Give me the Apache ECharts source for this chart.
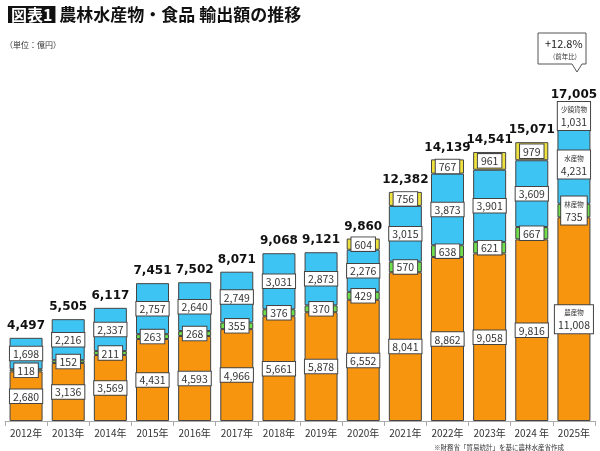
<!DOCTYPE html>
<html>
<head>
<meta charset="utf-8">
<script src="https://cdn.jsdelivr.net/npm/echarts@6/dist/echarts.min.js"></script>
<style>
  html, body { margin: 0; padding: 0; background: #fff; }
  #container { width: 600px; height: 451px; }
</style>
</head>
<body>
<div id="container"></div>
<script>
// データ（単位：億円）
var years = ['2012年', '2013年', '2014年', '2015年', '2016年', '2017年', '2018年',
             '2019年', '2020年', '2021年', '2022年', '2023年', '2024 年', '2025年'];
var nousan = [2680, 3136, 3569, 4431, 4593, 4966, 5661, 5878, 6552, 8041, 8862, 9058, 9816, 11008];
var rinsan = [118, 152, 211, 263, 268, 355, 376, 370, 429, 570, 638, 621, 667, 735];
var suisan = [1698, 2216, 2337, 2757, 2640, 2749, 3031, 2873, 2276, 3015, 3873, 3901, 3609, 4231];
var shougaku = [null, null, null, null, null, null, null, null, 604, 756, 767, 961, 979, 1031];
var totals = [4497, 5505, 6117, 7451, 7502, 8071, 9068, 9121, 9860, 12382, 14139, 14541, 15071, 17005];
var seriesNames = ['農産物', '林産物', '水産物', '少額貨物'];

var dom = document.getElementById('container');
var myChart = echarts.init(dom, null, { renderer: 'canvas' });

var fontJP = '"Noto Sans CJK JP", sans-serif';
var lastIdx = years.length - 1;

function fmt(v) {
   return v.toLocaleString('en-US');
}

// 各セグメントの白い枠ラベル
var boxLabel = {
   show: true,
   position: 'inside',
   backgroundColor: '#fff',
   borderColor: '#444',
   borderWidth: 1,
   padding: [2, 3, 1, 3],
   color: '#333',
   fontSize: 10.5,
   fontFamily: fontJP,
   rich: {
      name: { fontSize: 6.5, color: '#333', lineHeight: 11, align: 'center', fontFamily: fontJP },
      val: { fontSize: 10.5, color: '#333', lineHeight: 14, align: 'center', fontFamily: fontJP }
   },
   formatter: function (p) {
      if (p.dataIndex === lastIdx) {
         return '{name|' + p.seriesName + '}\n{val|' + fmt(p.value) + '}';
      }
      return fmt(p.value);
   }
};

function makeData(arr) {
   return arr.map(function (v) {
      if (v === null) return { value: '-', label: { show: false } };
      return v;
   });
}

var colors = ['#F7950F', '#6FDD4C', '#3EC4F2', '#EFE23E'];
var arrays = [nousan, rinsan, suisan, shougaku];

var series = arrays.map(function (arr, i) {
   return {
      name: seriesNames[i],
      type: 'bar',
      stack: 'total',
      barWidth: 33,
      data: makeData(arr),
      itemStyle: { color: colors[i], borderColor: '#444', borderWidth: 1 },
      label: boxLabel
   };
});

// 合計ラベル
series.push({
   name: '合計',
   type: 'bar',
   stack: 'total',
   barWidth: 33,
   data: totals.map(function () { return 0; }),
   itemStyle: { color: 'transparent' },
   label: {
      show: true,
      position: 'top',
      distance: 6,
      color: '#111',
      fontSize: 12,
      fontWeight: 'bold',
      fontFamily: '"DejaVu Sans", sans-serif',
      formatter: function (p) { return fmt(totals[p.dataIndex]); }
   }
});

var option = {
   animation: false,
   backgroundColor: '#fff',
   title: [
      {
         text: '{box|図表1} 農林水産物・食品 輸出額の推移',
         left: 3,
         top: 1,
         textStyle: {
            fontFamily: fontJP,
            fontSize: 17,
            fontWeight: 'bold',
            color: '#111',
            rich: {
               box: {
                  backgroundColor: '#111',
                  color: '#fff',
                  fontSize: 16,
                  fontWeight: 'bold',
                  fontFamily: fontJP,
                  padding: [1, 3, 0, 3]
               }
            }
         }
      },
      {
         text: '（単位：億円）',
         left: 0,
         top: 36,
         textStyle: { fontFamily: fontJP, fontSize: 8, fontWeight: 'normal', color: '#333' }
      },
      {
         text: '※財務省「貿易統計」を基に農林水産省作成',
         left: 429,
         top: 439,
         textStyle: { fontFamily: fontJP, fontSize: 6.5, fontWeight: 'normal', color: '#333' }
      }
   ],
   grid: {
      left: 5,
      right: 5,
      top: 100,
      bottom: 30
   },
   xAxis: {
      type: 'category',
      data: years,
      axisLine: { lineStyle: { color: '#aaa' } },
      axisTick: { show: true, lineStyle: { color: '#aaa' } },
      axisLabel: { color: '#333', fontSize: 10, fontFamily: fontJP, margin: 7, interval: 0 }
   },
   yAxis: {
      type: 'value',
      min: 0,
      max: 17350,
      show: false,
      splitLine: { show: false }
   },
   graphic: [
      {
         type: 'polygon',
         shape: { points: [[538, 33], [586, 33], [586, 64], [582, 64], [577, 72], [572, 64], [538, 64]] },
         style: { fill: '#fff', stroke: '#555', lineWidth: 1 }
      },
      {
         type: 'text',
         left: 545,
         top: 38,
         style: { text: '+12.8%', fontSize: 11, fill: '#222', fontFamily: fontJP }
      },
      {
         type: 'text',
         left: 553,
         top: 53,
         style: { text: '(前年比)', fontSize: 6.5, fill: '#333', fontFamily: fontJP }
      }
   ],
   series: series
};

myChart.setOption(option);
window.addEventListener('resize', myChart.resize);
</script>
</body>
</html>
